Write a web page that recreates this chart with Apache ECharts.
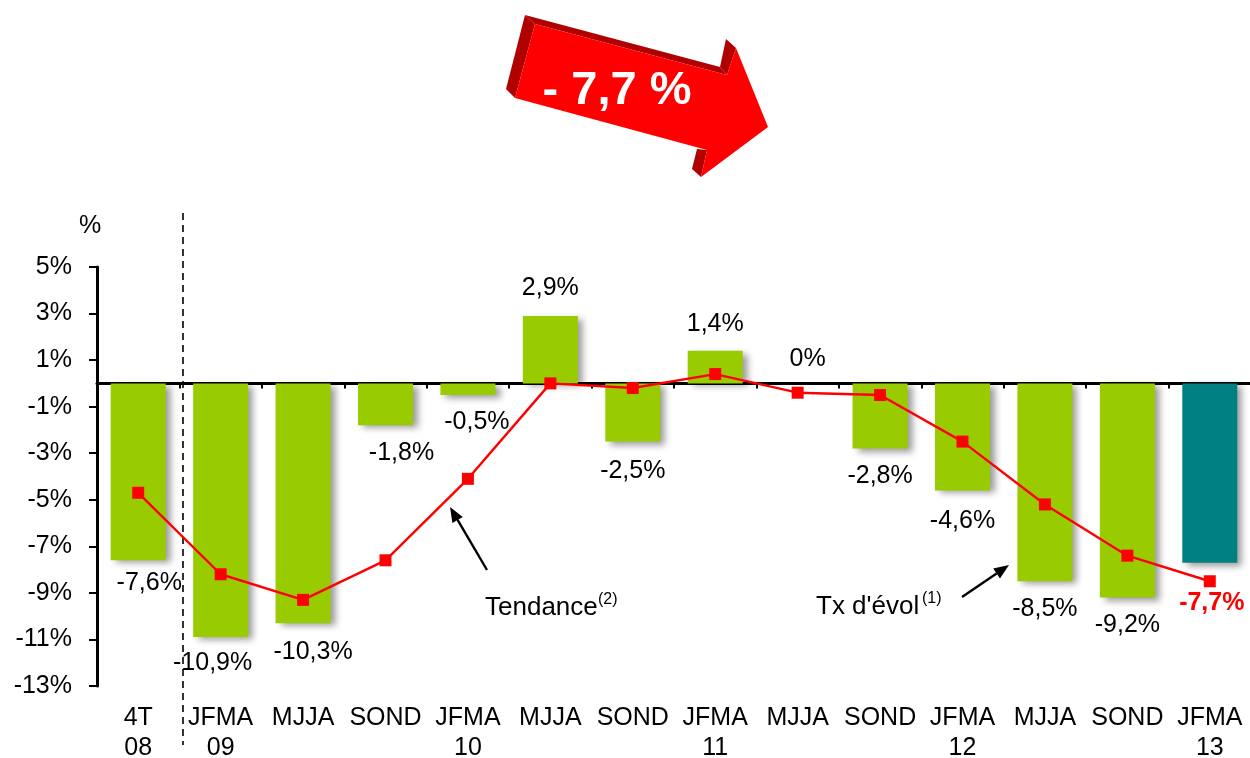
<!DOCTYPE html>
<html>
<head>
    <meta charset="utf-8">
    <title>Tx d'évol</title>
    <script src="https://cdn.jsdelivr.net/npm/echarts@6/dist/echarts.min.js"></script>
    <style>
        html, body { margin: 0; padding: 0; background: #fff; }
    </style>
</head>
<body>
    <div id="main" style="width: 1250px;height:758px;"></div>
<script type="text/javascript">
    var myChart = echarts.init(document.getElementById('main'));

// data
var categories = ['4T\n08', 'JFMA\n09', 'MJJA', 'SOND', 'JFMA\n10', 'MJJA', 'SOND',
                  'JFMA\n11', 'MJJA', 'SOND', 'JFMA\n12', 'MJJA', 'SOND', 'JFMA\n13'];
var evolution = [-7.6, -10.9, -10.3, -1.8, -0.5, 2.9, -2.5, 1.4, 0, -2.8, -4.6, -8.5, -9.2, -7.7];
var tendance = [-4.7, -8.2, -9.3, -7.6, -4.1, 0, -0.2, 0.4, -0.4, -0.5, -2.5, -5.2, -7.4, -8.5];
var yTicks = [-13, -11, -9, -7, -5, -3, -1, 1, 3, 5];

var FONT = 'Arial, "Liberation Sans", sans-serif';

// petits décalages des étiquettes, comme sur l'original
var labelNudge = [[11, -5], [-8, -2], [10, 1], [16, 0], [9, 0], [0, 0], [0, 2],
                  [0, 1], [10, 3], [0, 0], [0, 3], [0, 0], [0, 0], [2, 13]];

function pct(v) {
    return (v === 0 ? '0' : String(v).replace('.', ',')) + '%';
}

var barData = evolution.map(function (v, i) {
    var last = i === evolution.length - 1;
    return {
        value: v,
        itemStyle: { color: last ? '#008080' : '#99CC00' },
        label: {
            position: v < 0 ? 'bottom' : 'top',
            offset: labelNudge[i],
            color: last ? '#FF0000' : '#000',
            fontWeight: last ? 'bold' : 'normal'
        }
    };
});

// flèche de commentaire
function pointer(x1, y1, x2, y2) {
    var dx = x2 - x1, dy = y2 - y1, len = Math.sqrt(dx * dx + dy * dy);
    var ux = dx / len, uy = dy / len, h = 15, w = 6;
    var bx = x2 - ux * h, by = y2 - uy * h;
    return [
        { type: 'line', shape: { x1: x1, y1: y1, x2: bx, y2: by },
          style: { stroke: '#000', lineWidth: 2.4 } },
        { type: 'polygon', shape: { points: [[x2, y2], [bx - uy * w, by + ux * w], [bx + uy * w, by - ux * w]] },
          style: { fill: '#000' } }
    ];
}

var darkRed = '#B00000';
var graphics = [
    // ligne pointillée de séparation
    { type: 'line', shape: { x1: 183, y1: 213, x2: 183, y2: 745 },
      style: { stroke: '#000', lineWidth: 1.6, lineDash: [7, 5] } },
    { type: 'text', x: 90, y: 226,
      style: { text: '%', font: '25px ' + FONT, fill: '#000', textAlign: 'center', textVerticalAlign: 'middle' } },
    // grosse flèche rouge
    { type: 'polygon', shape: { points: [[525, 15], [535, 24], [515, 98], [506, 89]] }, style: { fill: darkRed } },
    { type: 'polygon', shape: { points: [[525, 15], [720, 67], [727, 75], [535, 24]] }, style: { fill: darkRed } },
    { type: 'polygon', shape: { points: [[720, 67], [726, 39], [736, 48], [727, 75]] }, style: { fill: darkRed } },
    { type: 'polygon', shape: { points: [[697, 149], [707, 150], [701, 177], [692, 169]] }, style: { fill: darkRed } },
    { type: 'polygon', shape: { points: [[535, 24], [727, 75], [736, 48], [768, 127], [701, 177], [707, 150], [515, 98]] },
      style: { fill: '#FF0000' } },
    { type: 'text', x: 617, y: 91,
      style: { text: '- 7,7 %', font: 'bold 47px ' + FONT, fill: '#fff', textAlign: 'center', textVerticalAlign: 'middle' } },
    // annotations
    { type: 'text', x: 485, y: 608,
      style: { text: 'Tendance', font: '26px ' + FONT, fill: '#000', textAlign: 'left', textVerticalAlign: 'middle' } },
    { type: 'text', x: 598, y: 600,
      style: { text: '(2)', font: '16px ' + FONT, fill: '#000', textAlign: 'left', textVerticalAlign: 'middle' } },
    { type: 'text', x: 816, y: 607,
      style: { text: "Tx d'évol", font: '26px ' + FONT, fill: '#000', textAlign: 'left', textVerticalAlign: 'middle' } },
    { type: 'text', x: 922, y: 599,
      style: { text: '(1)', font: '16px ' + FONT, fill: '#000', textAlign: 'left', textVerticalAlign: 'middle' } }
].concat(pointer(487, 570, 450, 507), pointer(962, 597, 1009, 565));

option = {
    animation: false,
    backgroundColor: '#fff',
    grid: { left: 97, top: 267, width: 1154, height: 419, outerBoundsMode: 'none' },
    xAxis: [
        {
            type: 'category',
            data: categories,
            axisLine: { onZero: true, lineStyle: { color: '#000', width: 3 } },
            axisTick: { show: true, length: 5, lineStyle: { color: '#000', width: 2 } },
            axisLabel: { show: false },
            splitLine: { show: false }
        },
        {
            type: 'category',
            data: categories,
            position: 'bottom',
            axisLine: { show: false, onZero: false },
            axisTick: { show: false },
            axisLabel: { interval: 0, margin: 17, fontSize: 25, lineHeight: 30, color: '#000', fontFamily: FONT },
            splitLine: { show: false }
        }
    ],
    yAxis: {
        type: 'value',
        min: -13,
        max: 5,
        interval: 1,
        axisLine: { show: true, lineStyle: { color: '#000', width: 3 } },
        axisTick: { show: true, length: 8, customValues: yTicks, lineStyle: { color: '#000', width: 2 } },
        axisLabel: {
            customValues: yTicks,
            formatter: function (v) { return v + '%'; },
            margin: 25, fontSize: 25, color: '#000', fontFamily: FONT
        },
        splitLine: { show: false }
    },
    series: [
        {
            name: "Tx d'évol",
            type: 'bar',
            xAxisIndex: 0,
            barWidth: 55,
            data: barData,
            itemStyle: {
                shadowColor: 'rgba(0,0,0,0.4)',
                shadowBlur: 7,
                shadowOffsetX: 5,
                shadowOffsetY: 3
            },
            label: {
                show: true,
                distance: 15,
                fontSize: 25,
                fontFamily: FONT,
                formatter: function (p) { return pct(p.value); }
            },
            z: 2
        },
        {
            name: 'Tendance',
            type: 'line',
            xAxisIndex: 0,
            data: tendance,
            symbol: 'rect',
            symbolSize: 12,
            itemStyle: { color: '#FF0000' },
            lineStyle: { color: '#FF0000', width: 2.4 },
            clip: false,
            z: 3
        }
    ],
    graphic: { elements: graphics }
};

myChart.setOption(option);
</script>
</body>
</html>
